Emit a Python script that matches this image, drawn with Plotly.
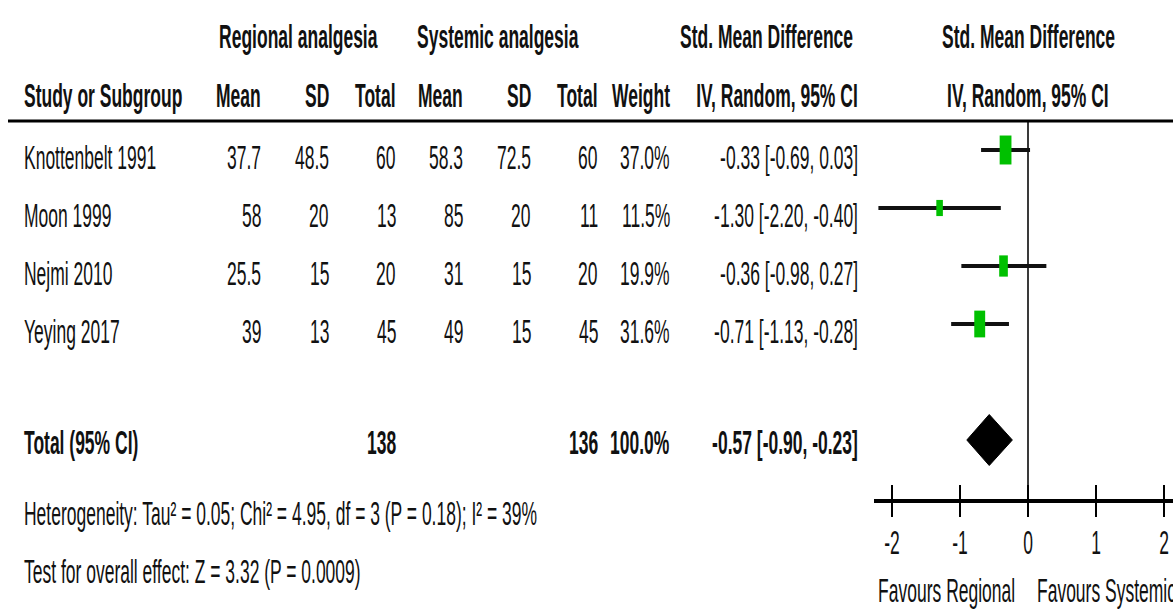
import plotly.graph_objects as go
import math

# ---------------- data ----------------
studies = ["Knottenbelt 1991", "Moon 1999", "Nejmi 2010", "Yeying 2017"]
reg_mean = [37.7, 58, 25.5, 39]
reg_sd = [48.5, 20, 15, 13]
reg_n = [60, 13, 20, 45]
sys_mean = [58.3, 85, 31, 49]
sys_sd = [72.5, 20, 15, 15]
sys_n = [60, 11, 20, 45]
weights = [37.0, 11.5, 19.9, 31.6]
smd = [-0.33, -1.30, -0.36, -0.71]
ci_lo = [-0.69, -2.20, -0.98, -1.13]
ci_hi = [0.03, -0.40, 0.27, -0.28]

total_label = "Total (95% CI)"
total_reg_n = 138
total_sys_n = 136
total_weight = 100.0
total_smd = -0.57
total_lo = -0.90
total_hi = -0.23

tick_vals = [-2, -1, 0, 1, 2]
tick_labels = ["-2", "-1", "0", "1", "2"]

heterogeneity = "Heterogeneity: Tau² = 0.05; Chi² = 4.95, df = 3 (P = 0.18); I² = 39%"
overall = "Test for overall effect: Z = 3.32 (P = 0.0009)"
favours_left = "Favours Regional"
favours_right = "Favours Systemic"

# ---------------- layout constants ----------------
W, H = 1173, 610
FONT = "Liberation Sans, Arial, sans-serif"
FS = 17.5
TXT = "#111111"
GREEN = "#00c000"

X0_PX = 1028.0     # pixel of SMD = 0
PX_PER_UNIT = 68.0
PLOT_LEFT_PX = 874.0
ROW0_PX = 150.0
ROW_PX = 58.0
TOP_PX = 121.0
AXIS_PX = 499.0
TEXT_SHIFT = -8
TOTAL_SHIFT = -3


def px(p):
    return p / W


def py(p):
    return 1 - p / H


x_range = [(PLOT_LEFT_PX - X0_PX) / PX_PER_UNIT, (W - X0_PX) / PX_PER_UNIT]
y_top = (TOP_PX - ROW0_PX) / ROW_PX
y_bot = (AXIS_PX - ROW0_PX) / ROW_PX

rows = list(range(len(studies)))
total_row = len(studies) + 1

fig = go.Figure()

# CI lines
xs, ys = [], []
for r, lo, hi in zip(rows, ci_lo, ci_hi):
    xs += [lo, hi, None]
    ys += [r, r, None]
fig.add_trace(go.Scatter(x=xs, y=ys, mode="lines",
                         line=dict(color="#111111", width=4),
                         hoverinfo="skip", showlegend=False))

# weight squares (area proportional to weight)
shapes = []
for r, m, w in zip(rows, smd, weights):
    hw = 0.97 * math.sqrt(w) / PX_PER_UNIT
    hh = 2.38 * math.sqrt(w) / ROW_PX
    shapes.append(dict(type="rect", xref="x", yref="y",
                       x0=m - hw, x1=m + hw, y0=r - hh, y1=r + hh,
                       fillcolor=GREEN, line=dict(width=0), layer="above"))

# diamond
dh = 25.5 / ROW_PX
fig.add_trace(go.Scatter(
    x=[total_lo, total_smd, total_hi, total_smd, total_lo],
    y=[total_row, total_row - dh, total_row, total_row + dh, total_row],
    mode="lines", fill="toself", fillcolor="black",
    line=dict(color="black", width=1), hoverinfo="skip", showlegend=False))

# top rule
shapes.append(dict(type="line", xref="paper", yref="paper",
                   x0=px(8), x1=1, y0=py(TOP_PX), y1=py(TOP_PX),
                   line=dict(color="black", width=3)))

ann = []


def t(text, xpix, y, anchor="right", bold=False, yref="y", shift=0):
    ann.append(dict(text=f"<b>{text}</b>" if bold else text,
                    x=px(xpix), xref="paper", y=y, yref=yref,
                    xanchor=anchor, yanchor="middle", align=anchor,
                    showarrow=False, yshift=shift,
                    font=dict(family=FONT, size=FS, color=TXT)))


# headers
hy1 = py(37)
hy2 = py(96)
t("Regional analgesia", 298, hy1, "center", True, "paper")
t("Systemic analgesia", 498, hy1, "center", True, "paper")
t("Std. Mean Difference", 766, hy1, "center", True, "paper")
t("Std. Mean Difference", X0_PX, hy1, "center", True, "paper")
t("Study or Subgroup", 22, hy2, "left", True, "paper")
col_right = [263, 331, 398, 465, 533, 600, 672, 860]
col_heads = ["Mean", "SD", "Total", "Mean", "SD", "Total", "Weight", "IV, Random, 95% CI"]
for xr, h in zip(col_right, col_heads):
    t(h, xr, hy2, "right", True, "paper")
t("IV, Random, 95% CI", X0_PX, hy2, "center", True, "paper")

# study rows
for i, r in enumerate(rows):
    t(studies[i], 22, r, "left", shift=TEXT_SHIFT)
    vals = [f"{reg_mean[i]:g}", f"{reg_sd[i]:g}", f"{reg_n[i]}",
            f"{sys_mean[i]:g}", f"{sys_sd[i]:g}", f"{sys_n[i]}",
            f"{weights[i]:.1f}%",
            f"{smd[i]:.2f} [{ci_lo[i]:.2f}, {ci_hi[i]:.2f}]"]
    for xr, v in zip(col_right, vals):
        t(v, xr, r, "right", shift=TEXT_SHIFT)

# total row
t(total_label, 22, total_row, "left", True, shift=TOTAL_SHIFT)
t(f"{total_reg_n}", col_right[2], total_row, "right", True, shift=TOTAL_SHIFT)
t(f"{total_sys_n}", col_right[5], total_row, "right", True, shift=TOTAL_SHIFT)
t(f"{total_weight:.1f}%", col_right[6], total_row, "right", True, shift=TOTAL_SHIFT)
t(f"{total_smd:.2f} [{total_lo:.2f}, {total_hi:.2f}]", col_right[7], total_row, "right", True,
  shift=TOTAL_SHIFT)

t(heterogeneity, 22, py(514), "left", False, "paper")
t(overall, 22, py(572), "left", False, "paper")
t(favours_left, 1017, py(591), "right", False, "paper")
t(favours_right, 1035, py(591), "left", False, "paper")

fig.update_layout(
    width=W, height=H,
    margin=dict(l=0, r=0, t=0, b=0),
    paper_bgcolor="white", plot_bgcolor="white",
    showlegend=False,
    shapes=shapes, annotations=ann,
    xaxis=dict(domain=[px(PLOT_LEFT_PX), 1], range=x_range,
               showgrid=False, zeroline=True, zerolinecolor="#3a3a3a", zerolinewidth=2,
               showline=True, linecolor="black", linewidth=4,
               tickmode="array", tickvals=tick_vals, ticktext=tick_labels,
               ticks="outside", ticklen=14, tickwidth=2, tickcolor="black",
               ticklabelstandoff=11,
               tickfont=dict(family=FONT, size=FS, color=TXT), fixedrange=True),
    xaxis2=dict(domain=[px(PLOT_LEFT_PX), 1], range=x_range, overlaying="x",
                anchor="y", side="bottom", matches="x",
                showgrid=False, zeroline=False, showline=False,
                tickmode="array", tickvals=tick_vals, ticktext=tick_labels,
                ticks="inside", ticklen=14, tickwidth=2, tickcolor="black",
                showticklabels=False),
    yaxis=dict(domain=[py(AXIS_PX), py(TOP_PX)], range=[y_bot, y_top],
               showgrid=False, zeroline=False, showline=False,
               showticklabels=False, ticks="", fixedrange=True),
)
# trace that activates the overlaid tick axis
fig.add_trace(go.Scatter(x=[None], y=[None], xaxis="x2", yaxis="y",
                         showlegend=False, hoverinfo="skip"))

post = (
    "document.body.style.margin='0px';"
    "var st=document.createElement('style');"
    "st.textContent='.annotation-text,g.xtick{transform-box:fill-box;"
    "transform-origin:50% 50%;transform:scaleY(1.9);}';"
    "document.head.appendChild(st);"
)
fig.write_html("out.html", config={"displayModeBar": False}, post_script=post)
